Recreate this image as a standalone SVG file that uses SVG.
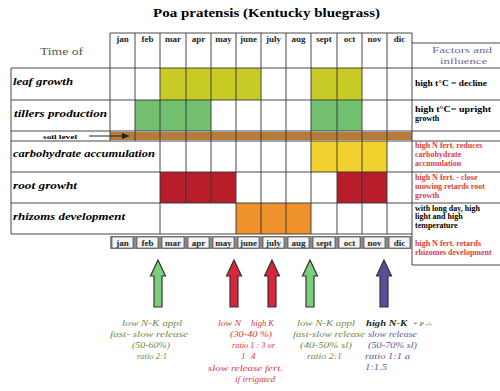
<svg xmlns="http://www.w3.org/2000/svg" width="500" height="391" viewBox="0 0 500 391">
<style>
.t{font-family:"Liberation Serif",serif;}
.title{font-size:12px;font-weight:bold;}
.mon{font-size:9px;font-weight:bold;text-anchor:middle;fill:#222;}
.lab{font-size:10.5px;font-weight:bold;font-style:italic;}
.fac{font-size:8px;font-weight:bold;}
.red{fill:#d8413f;}
.note{font-size:9px;font-style:italic;}
.gn{fill:#6e8c45;}
.rn{fill:#d8383c;}
.pn{fill:#5a58a0;}
.ln{stroke:#222;stroke-width:1;fill:none;}
.grid{stroke:#333;stroke-width:0.9;}
.lg{fill:#c9cc26;}
.ti{fill:#72c070;}
.ca{fill:#f2d12e;}
.ro{fill:#b81e2a;}
.rh{fill:#f0922c;}
.arr{stroke:#333;stroke-width:1.2;}
</style>
<defs>
<path id="uparrow" d="M0,0 L7.5,16 L4,16 L4,47 L-4,47 L-4,16 L-7.5,16 Z"/>
<marker id="ah" markerWidth="8" markerHeight="8" refX="7" refY="4" orient="auto" markerUnits="userSpaceOnUse">
<path d="M0,1 L7,4 L0,7 Z" fill="#222"/>
</marker>
</defs>
<rect width="500" height="391" fill="#fff"/>
<text class="t title" x="153" y="17" textLength="227" lengthAdjust="spacingAndGlyphs">Poa pratensis (Kentucky bluegrass)</text>

<g id="header">
<text class="t" x="40" y="55" font-size="11" fill="#555" textLength="43" lengthAdjust="spacingAndGlyphs">Time of</text>
<g class="t mon">
<text x="122.5" y="42">jan</text><text x="147.5" y="42">feb</text><text x="173" y="42">mar</text><text x="198.5" y="42">apr</text><text x="223.5" y="42">may</text><text x="248.5" y="42">june</text><text x="273.5" y="42">july</text><text x="298.5" y="42">aug</text><text x="324" y="42">sept</text><text x="349.5" y="42">oct</text><text x="374.5" y="42">nov</text><text x="399.5" y="42">dic</text>
</g>
</g>

<g id="cells">
<rect class="lg" x="160" y="68" width="101" height="32"/>
<rect class="lg" x="311" y="68" width="51" height="32"/>
<rect class="ti" x="135" y="100" width="76" height="31"/>
<rect class="ti" x="311" y="100" width="51" height="31"/>
<rect fill="#b57a3c" x="110" y="132" width="302" height="8"/>
<rect class="ca" x="311" y="141" width="76" height="31"/>
<rect class="ro" x="160" y="172" width="76" height="31"/>
<rect class="ro" x="337" y="172" width="50" height="31"/>
<rect class="rh" x="236" y="203" width="75" height="31"/>
</g>

<g id="grid">
<path class="grid" d="M110,33 H412 M11,68 H500 M11,100 H500 M11,131 H500 M11,141 H500 M11,172 H500 M11,203 H500 M11,234 H412 M412,43 H500"/>
<path class="grid" d="M11,68 V234 M110,33 V141 M135,33 V141 M160,33 V234 M186,33 V203 M211,33 V203 M236,33 V234 M261,33 V234 M286,33 V234 M311,33 V234 M337,33 V234 M362,33 V234 M387,33 V234 M412,33 V265"/>
</g>

<g id="row-labels" class="t lab">
<text x="13" y="85" textLength="60" lengthAdjust="spacingAndGlyphs">leaf growth</text>
<text x="14" y="117" textLength="93" lengthAdjust="spacingAndGlyphs">tillers production</text>
<text x="13" y="157" textLength="142" lengthAdjust="spacingAndGlyphs">carbohydrate accumulation</text>
<text x="13" y="189" textLength="64" lengthAdjust="spacingAndGlyphs">root growht</text>
<text x="13" y="220" textLength="112" lengthAdjust="spacingAndGlyphs">rhizoms development</text>
</g>

<g id="soil-level">
<text class="t" x="43" y="138.5" font-size="6" font-weight="bold" textLength="34" lengthAdjust="spacingAndGlyphs">soil level</text>
</g>

<g id="factors">
<text class="t" x="432" y="53" font-size="9" fill="#6a6a9a" textLength="60" lengthAdjust="spacingAndGlyphs">Factors and</text>
<text class="t" x="440" y="64" font-size="9" fill="#6a6a9a" textLength="47" lengthAdjust="spacingAndGlyphs">influence</text>
<g class="t fac">
<text x="415" y="86" textLength="72" lengthAdjust="spacingAndGlyphs">high t°C = decline</text>
<text x="415" y="112" textLength="76" lengthAdjust="spacingAndGlyphs">high t°C= upright</text>
<text x="415" y="121">growth</text>
<text class="red" x="415" y="148">high N fert. reduces</text>
<text class="red" x="415" y="157">carbohydrate</text>
<text class="red" x="415" y="166">accumulation</text>
<text class="red" x="415" y="180">high N fert. - close</text>
<text class="red" x="415" y="189">mowing retards root</text>
<text class="red" x="415" y="198">growth</text>
<text x="415" y="211">with long day, high</text>
<text x="415" y="219">light and high</text>
<text x="415" y="228">temperature</text>
<text class="red" x="415" y="246">high N fert. retards</text>
<text class="red" x="415" y="255">rhizomes development</text>
</g>
<path class="grid" d="M412,265 H500" stroke-width="1.5"/>
</g>

<g id="bottom-months">
<rect x="110" y="236" width="302" height="13" fill="#8a8a8a"/>
<g fill="#f4f4f4" stroke="#333" stroke-width="0.6">
<rect x="112" y="237" width="21" height="11"/><rect x="137" y="237" width="21" height="11"/><rect x="162" y="237" width="22" height="11"/><rect x="188" y="237" width="21" height="11"/><rect x="213" y="237" width="21" height="11"/><rect x="238" y="237" width="21" height="11"/><rect x="263" y="237" width="21" height="11"/><rect x="288" y="237" width="21" height="11"/><rect x="313" y="237" width="22" height="11"/><rect x="339" y="237" width="21" height="11"/><rect x="364" y="237" width="21" height="11"/><rect x="389" y="237" width="21" height="11"/>
</g>
<g class="t mon">
<text x="122.5" y="246">jan</text><text x="147.5" y="246">feb</text><text x="173" y="246">mar</text><text x="198.5" y="246">apr</text><text x="223.5" y="246">may</text><text x="248.5" y="246">june</text><text x="273.5" y="246">july</text><text x="298.5" y="246">aug</text><text x="324" y="246">sept</text><text x="349.5" y="246">oct</text><text x="374.5" y="246">nov</text><text x="399.5" y="246">dic</text>
</g>
</g>

<g id="connectors">
<path class="ln" d="M89,136 H129" marker-end="url(#ah)"/>
<use href="#uparrow" class="arr" x="158" y="260" fill="#7ccf7a"/>
<use href="#uparrow" class="arr" x="234" y="260" fill="#d8253a"/>
<use href="#uparrow" class="arr" x="272" y="260" fill="#d8253a"/>
<use href="#uparrow" class="arr" x="310" y="260" fill="#7ccf7a"/>
<use href="#uparrow" class="arr" x="384" y="260" fill="#54509a"/>
</g>

<g id="notes" class="t note">
<g class="gn">
<text x="122" y="326" textLength="60" lengthAdjust="spacingAndGlyphs">low N-K appl</text>
<text x="110" y="337" textLength="78" lengthAdjust="spacingAndGlyphs">fast- slow release</text>
<text x="132" y="348" textLength="38" lengthAdjust="spacingAndGlyphs">(50-60%)</text>
<text x="137" y="359" textLength="30" lengthAdjust="spacingAndGlyphs">ratio 2:1</text>
</g>
<g class="rn">
<text x="218" y="326" textLength="23" lengthAdjust="spacingAndGlyphs">low N</text>
<text x="251" y="326" textLength="23" lengthAdjust="spacingAndGlyphs">high K</text>
<text x="230" y="337" textLength="42" lengthAdjust="spacingAndGlyphs">(30-40 %)</text>
<text x="232" y="348" textLength="43" lengthAdjust="spacingAndGlyphs">ratio 1 : 3 or</text>
<text x="241" y="359">1</text>
<text x="251" y="359">4</text>
<text x="208" y="371" textLength="75" lengthAdjust="spacingAndGlyphs">slow release fert.</text>
<text x="235" y="382" textLength="40" lengthAdjust="spacingAndGlyphs">if irrigated</text>
</g>
<g class="gn">
<text x="297" y="326" textLength="58" lengthAdjust="spacingAndGlyphs">low N-K appl</text>
<text x="293" y="337" textLength="72" lengthAdjust="spacingAndGlyphs">fast-slow release</text>
<text x="300" y="348" textLength="52" lengthAdjust="spacingAndGlyphs">(40-50% sl)</text>
<text x="307" y="359" textLength="35" lengthAdjust="spacingAndGlyphs">ratio 2:1</text>
</g>
<text x="366" y="326" font-weight="bold" fill="#222" textLength="41" lengthAdjust="spacingAndGlyphs">high N-K</text>
<text x="413" y="326" fill="#555" font-size="7">+ P -/-</text>
<g class="pn">
<text x="368" y="337" textLength="49" lengthAdjust="spacingAndGlyphs">slow release</text>
<text x="368" y="348" textLength="49" lengthAdjust="spacingAndGlyphs">(50-70% sl)</text>
<text x="365" y="359" textLength="45" lengthAdjust="spacingAndGlyphs">ratio 1:1 a</text>
<text x="365" y="370" textLength="22" lengthAdjust="spacingAndGlyphs">1:1.5</text>
</g>
</g>
</svg>
